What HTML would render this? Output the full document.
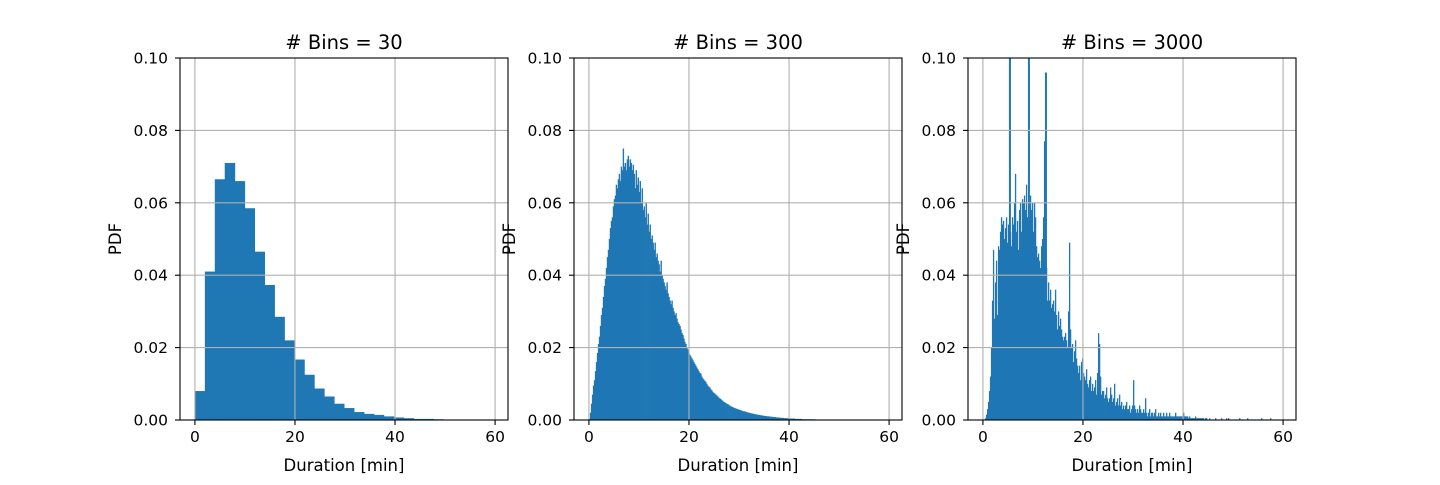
<!DOCTYPE html>
<html><head><meta charset="utf-8"><style>
body{margin:0;background:#fff;}
svg text{font-family:"DejaVu Sans","Liberation Sans",sans-serif;fill:#000;}
</style></head><body>
<svg id="fig" width="1440" height="480" xmlns="http://www.w3.org/2000/svg"></svg>
<script>
// Data (PDF values in units of 1e-4)
const dataMax = 59.6;
const yTicks = [0, 0.02, 0.04, 0.06, 0.08, 0.10];
const yTickLabels = ["0.00","0.02","0.04","0.06","0.08","0.10"];
const xTicks = [0, 20, 40, 60];
const xTickLabels = ["0","20","40","60"];
const titles = ["# Bins = 30", "# Bins = 300", "# Bins = 3000"];
const bins30 = [80,410,665,710,660,585,465,373,285,220,167,125,87,65,45,33,22,17,14,10,7,5,3,3,2,1,1,1,1,1];
const bins300 = [
3,20,45,70,95, 110,135,160,185,210, 230,260,290,310,340, 370,390,420,450,470,
500,530,550,560,590, 610,620,650,640,665, 680,660,700,690,750, 700,710,690,720,730,
700,720,710,690,705, 680,640,690,650,670, 630,660,600,640,580, 590,560,600,540,570,
520,540,500,510,490, 470,490,450,460,440, 430,410,440,400,390, 380,370,360,380,350,
340,330,320,330,310, 300,290,295,280,270, 265,260,250,240,235, 225,215,210,200,195,
185,180,175,170,165, 160,155,150,145,140, 135,130,128,120,115, 112,108,105,100,95,
92,90,85,82,78, 75,73,70,68,65, 62,60,58,55,53, 50,49,47,45,44,
42,40,38,37,36, 34,33,32,31,30, 29,28,27,26,25,24,24,23,22,21,
20,20,19,18,18,17,16,16,15,15, 14,14,13,13,12,12,11,11,11,10,
10,10,9,9,9,8,8,8,7,7, 7,7,6,6,6,6,5,5,5,5,
5,5,4,4,4,4,4,3,3,3,3,3,3,3,2,2,2,2,2,2,2,2,2,2,2,
2,1,2,1,1,1,1,1,1,1,1,1,1,1,1,1,1,1,1,1,1,1,1,1,1,
1,1,1,1,1,1,1,1,1,1,1,1,1,1,1,1,1,1,1,1,1,1,1,1,1,
1,1,1,1,1,1,1,1,1,1,1,1,1,1,1,1,1,1,1,1,1,1,1,1,1];
const bins3000 = [
0,0,5,15,30, 50,80,120,200,330, 470,280,380,440,290, 480,470,520,560,540,
550,500,530,560,490, 540,1100,520,480,560, 540,600,680,520,550, 470,580,600,520,610,
600,620,580,650,560, 1100,560,620,580,600, 520,600,560,480,450, 460,440,420,480,500,
560,770,960,420,330, 380,330,360,310,320, 330,300,360,290,250, 300,260,280,250,230,
220,230,240,220,200, 300,490,250,200,210, 160,190,220,170,150, 130,150,110,160,170,
130,120,110,140,100, 90,110,120,80,100, 80,90,110,70,130, 240,210,120,70,80,
80,60,70,90,60, 50,60,90,70,50, 60,100,40,50,60, 40,70,40,50,30,
40,30,40,50,30, 30,40,20,30,40, 110,40,30,20,30, 20,40,30,20,20,
30,20,60,20,10, 20,30,10,20,20, 10,20,30,10,10, 20,10,20,10,10,
20,10,10,20,10, 10,20,10,10,10, 10,10,20,10,10, 10,10,10,10,10,
20,10,10,10,10, 5,10,5,5,5, 5,5,10,5,5, 5,5,5,5,5, 5,0,5,5,0,
0,5,0,0,0, 0,0,5,0,0, 0,0,0,5,0, 0,0,0,5,0, 5,0,0,0,0,
0,0,0,0,0, 0,5,0,0,0, 0,0,0,0,5, 0,0,0,0,0, 0,0,0,0,0,
0,0,0,5,0, 0,0,0,0,0, 0,0,5,0,0, 0,0,0,0,0, 0,0,0,0,0];
const seriesList = [bins30, bins300, bins3000];

const NS = "http://www.w3.org/2000/svg";
const fig = document.getElementById('fig');
function mk(tag, attrs, parent){const e=document.createElementNS(NS,tag);for(const k in attrs)e.setAttribute(k,attrs[k]);(parent||fig).appendChild(e);return e;}
const axL = [180, 574, 968], axW = 328, axT = 58, axB = 420;
const xmin = -2.98, xmax = 62.58, ymin = 0, ymax = 0.1;
const slugs = ["bins-30","bins-300","bins-3000"];
axL.forEach((L, i) => {
  const xs = v => L + (v - xmin) / (xmax - xmin) * axW;
  const ys = v => axB - (v - ymin) / (ymax - ymin) * (axB - axT);
  const g = mk('g', {});
  
  
  const cp = mk('clipPath', {id: 'clip' + i}, g);
  mk('rect', {x: L, y: axT, width: axW, height: axB - axT}, cp);
  const bars = mk('g', {'clip-path': 'url(#clip' + i + ')'}, g);
  
  
  const data = seriesList[i];
  const span = (i === 2) ? 60 : dataMax;
  const bw = span / data.length;
  data.forEach((v, k) => {
    const val = v / 10000;
    if (val <= 0) return;
    const x0 = xs(k * bw), x1 = xs((k + 1) * bw);
    const extra = i === 0 ? 0.5 : (i === 1 ? 0.4 : (val > 0.07 ? 1 : 0.3));
    const r = mk('rect', {x: x0, y: ys(val), width: Math.max(0.1, x1 - x0 + extra), height: ys(0) - ys(val), fill: '#1f77b4'}, bars);
    
    
  });
  xTicks.forEach(t => mk('line', {x1: xs(t), x2: xs(t), y1: axT, y2: axB, stroke: '#b0b0b0', 'stroke-width': 1.1}, g));
  yTicks.forEach(t => mk('line', {x1: L, x2: L + axW, y1: ys(t), y2: ys(t), stroke: '#b0b0b0', 'stroke-width': 1.1}, g));
  mk('rect', {x: L, y: axT, width: axW, height: axB - axT, fill: 'none', stroke: '#000', 'stroke-width': 1.1}, g);
  xTicks.forEach((t, k) => {
    mk('line', {x1: xs(t), x2: xs(t), y1: axB, y2: axB + 5, stroke: '#000', 'stroke-width': 1.1}, g);
    const tx = mk('text', {x: xs(t), y: axB + 22, 'font-size': 15.5, 'text-anchor': 'middle'}, g);
    tx.textContent = xTickLabels[k];
    
    
  });
  yTicks.forEach((t, k) => {
    mk('line', {x1: L - 5, x2: L, y1: ys(t), y2: ys(t), stroke: '#000', 'stroke-width': 1.1}, g);
    const tx = mk('text', {x: L - 12, y: ys(t) + 5.5, 'font-size': 15.5, 'text-anchor': 'end'}, g);
    tx.textContent = yTickLabels[k];
    
    
  });
  const xl = mk('text', {x: L + axW / 2, y: 471, 'font-size': 16.5, 'text-anchor': 'middle'}, g);
  xl.textContent = 'Duration [min]';
  
  
  const yl = mk('text', {x: 0, y: 0, 'font-size': 16.5, 'text-anchor': 'middle', transform: 'translate(' + (L - 59) + ',239) rotate(-90)'}, g);
  yl.textContent = 'PDF';
  
  
  const tt = mk('text', {x: L + axW / 2, y: 49, 'font-size': 19.5, 'text-anchor': 'middle'}, g);
  tt.textContent = titles[i];
  
  
});
</script>
</body></html>
